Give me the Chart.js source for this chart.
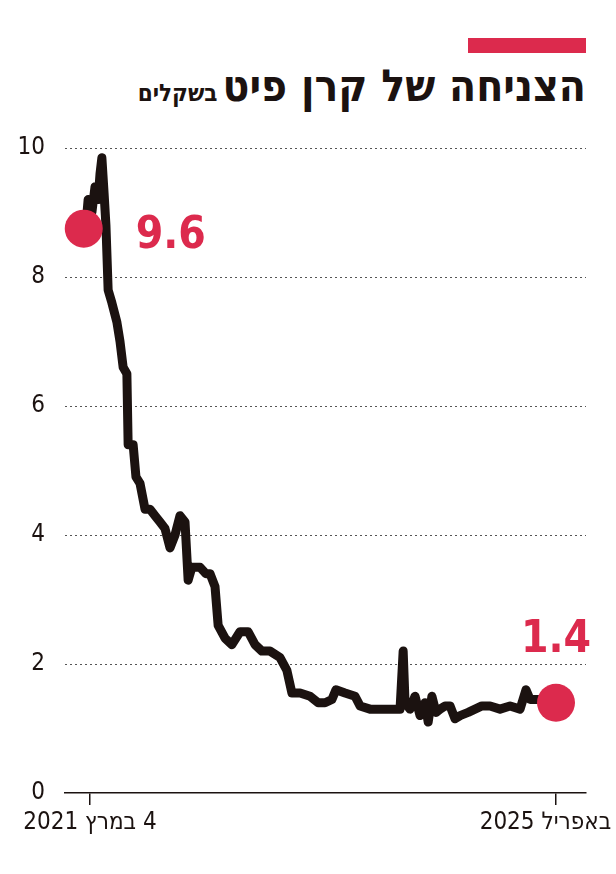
<!DOCTYPE html>
<html>
<head>
<meta charset="utf-8">
<script src="https://cdn.jsdelivr.net/npm/chart.js@4"></script>
<style>
  body { margin: 0; background: #fff; }
  #wrap { position: relative; width: 616px; height: 874px; }
  #bar { position: absolute; left: 468px; top: 38px; width: 118px; height: 15px; background: #dc2a4d; }
  #title { position: absolute; right: 30px; top: 60px; direction: rtl; white-space: nowrap;
    font-family: 'Liberation Sans Narrow', 'DejaVu Sans Condensed', sans-serif; font-weight: bold; color: #1b1210; }
  #title .big { font-size: 44px; }
  #title .small { font-size: 24px; }
  canvas { position: absolute; left: 0; top: 0; }
</style>
</head>
<body>
<div id="wrap">
  <div id="bar"></div>
  <div id="title"><span class="big">הצניחה של קרן פיט</span> <span class="small">בשקלים</span></div>
  <canvas id="c" width="616" height="874"></canvas>
</div>
<script>
'use strict';

// days since 4 March 2021
const days = [-13, -6, 6, 16, 26, 32, 38, 45, 51, 58, 70, 86, 96, 106, 118, 122, 138, 147, 160, 176,
  192, 208, 224, 240, 256, 272, 288, 304, 314, 326, 352, 371, 384, 400, 410, 432, 454, 480, 506, 528,
  550, 576, 608, 630, 646, 672, 704, 730, 752, 774, 787, 816, 848, 864, 896, 928, 960, 992, 1002, 1008,
  1024, 1040, 1056, 1072, 1082, 1094, 1107, 1120, 1136, 1152, 1168, 1184, 1210, 1232, 1254, 1280, 1312,
  1344, 1376, 1395, 1408, 1440, 1472, 1491];
const prices = [8.8, 9.2, 9.0, 9.4, 9.2, 9.6, 9.85, 9.3, 8.8, 7.8, 7.6, 7.3, 7.0, 6.6, 6.5, 5.4, 5.4, 4.9, 4.8, 4.4,
  4.4, 4.3, 4.2, 4.1, 3.8, 4.0, 4.3, 4.2, 3.3, 3.5, 3.5, 3.4, 3.4, 3.2, 2.6, 2.4, 2.3, 2.5, 2.5, 2.3,
  2.2, 2.2, 2.1, 1.9, 1.55, 1.55, 1.5, 1.4, 1.4, 1.45, 1.6, 1.55, 1.5, 1.35, 1.3, 1.3, 1.3, 1.3, 2.2, 1.4,
  1.3, 1.5, 1.2, 1.4, 1.1, 1.5, 1.25, 1.3, 1.35, 1.35, 1.15, 1.2, 1.25, 1.3, 1.35, 1.35, 1.3,
  1.35, 1.3, 1.6, 1.45, 1.45, 1.4, 1.4];
const xTickDays = [0, 1490];
const xTickLabels = ['4 במרץ 2021', '2 באפריל 2025'];
const yTicks = [0, 2, 4, 6, 8, 10];
const callouts = [
  { x: -20, y: 8.75, text: '9.6', side: 'right' },
  { x: 1491, y: 1.4, text: '1.4', side: 'above' },
];

const red = '#dc2a4d';
const ink = '#1b1210';
const font = "'Liberation Sans Narrow', 'DejaVu Sans Condensed', sans-serif";

const calloutPlugin = {
  id: 'callouts',
  afterDatasetsDraw(chart) {
    const { ctx, scales } = chart;
    ctx.save();
    callouts.forEach(c => {
      const px = scales.x.getPixelForValue(c.x);
      const py = scales.y.getPixelForValue(c.y);
      ctx.fillStyle = red;
      ctx.beginPath();
      ctx.arc(px, py, 19, 0, Math.PI * 2);
      ctx.fill();
      ctx.font = `bold 44px ${font}`;
      ctx.textBaseline = 'middle';
      if (c.side === 'right') {
        ctx.textAlign = 'left';
        ctx.fillText(c.text, px + 52, py + 8);
      } else {
        ctx.textAlign = 'center';
        ctx.fillText(c.text, px, py - 62);
      }
    });
    // x tick labels, drawn right-to-left
    ctx.fillStyle = ink;
    ctx.font = `24px ${font}`;
    ctx.direction = 'rtl';
    ctx.textAlign = 'center';
    ctx.textBaseline = 'top';
    xTickDays.forEach((d, i) => {
      ctx.fillText(xTickLabels[i], scales.x.getPixelForValue(d), scales.x.top + 18);
    });
    ctx.restore();
  },
};

new Chart(document.getElementById('c'), {
  type: 'line',
  data: {
    datasets: [{
      data: days.map((d, i) => ({ x: d, y: prices[i] })),
      borderColor: ink,
      borderWidth: 9,
      borderJoinStyle: 'round',
      borderCapStyle: 'round',
      pointRadius: 0,
      tension: 0,
    }],
  },
  options: {
    responsive: false,
    animation: false,
    layout: { padding: { top: 148, right: 30, bottom: 26, left: 0 } },
    plugins: { legend: { display: false }, tooltip: { enabled: false } },
    scales: {
      x: {
        type: 'linear',
        min: -80,
        max: 1587,
        afterBuildTicks: axis => { axis.ticks = xTickDays.map(v => ({ value: v })); },
        afterFit: axis => { axis.height = 55; },
        ticks: { callback: () => '', maxRotation: 0 },
        grid: { drawOnChartArea: false, tickLength: 12, color: ink, lineWidth: 1.5 },
        border: { color: ink, width: 1.5 },
      },
      y: {
        min: 0,
        max: 10,
        afterBuildTicks: axis => { axis.ticks = yTicks.map(v => ({ value: v })); },
        afterFit: axis => { axis.width = 65; },
        ticks: { color: ink, font: { family: font, size: 24 }, padding: 20 },
        grid: {
          drawTicks: false,
          color: ctx => (ctx.tick && ctx.tick.value === 0 ? 'rgba(0,0,0,0)' : '#555'),
          lineWidth: 1,
        },
        border: { display: false, dash: [2, 3] },
      },
    },
  },
  plugins: [calloutPlugin],
});
</script>
</body>
</html>
